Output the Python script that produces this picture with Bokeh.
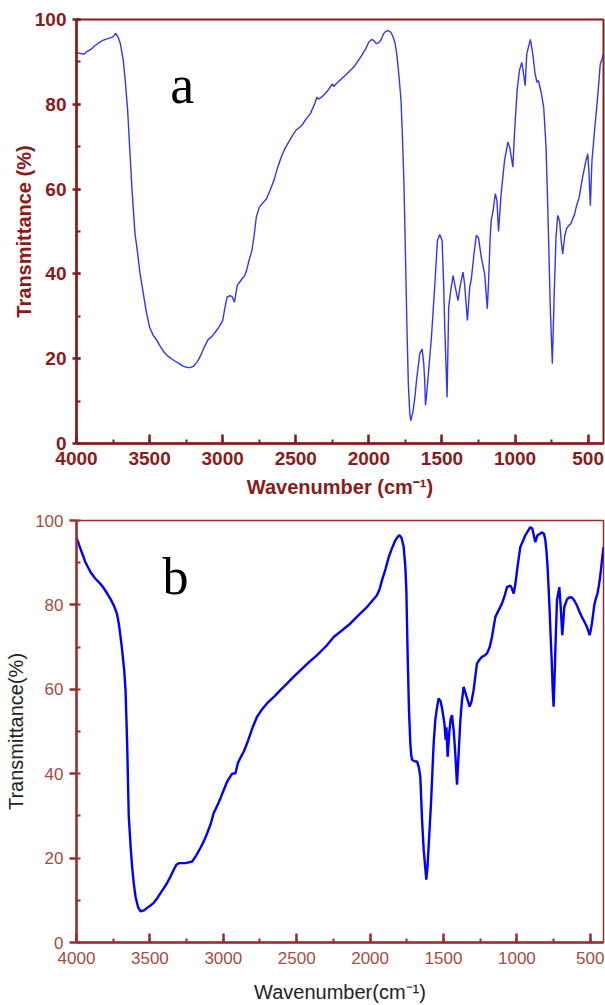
from bokeh.plotting import figure
from bokeh.models import Range1d, SingleIntervalTicker, Label
from bokeh.layouts import column
from bokeh.embed import file_html
from bokeh.resources import INLINE

# ---- spectrum a (wavenumber cm-1, transmittance %) ----
wn_a = [4000, 3975, 3950, 3925, 3900, 3875, 3850, 3825, 3800, 3775, 3750, 3732, 3715, 3700, 3680,
        3665, 3650, 3635, 3620, 3600, 3584, 3565, 3550, 3525, 3500, 3475, 3450, 3425, 3400, 3375,
        3350, 3325, 3300, 3275, 3250, 3225, 3200, 3175, 3150, 3125, 3100, 3075, 3050, 3025, 3000,
        2985, 2970, 2950, 2935, 2920, 2900, 2875, 2850, 2835, 2820, 2800, 2785, 2770, 2750, 2725,
        2700, 2675, 2650, 2625, 2600, 2575, 2550, 2525, 2500, 2459, 2430, 2400, 2370, 2356, 2345,
        2320, 2300, 2275, 2250, 2240, 2225, 2200, 2150, 2100, 2050, 2020, 2000, 1980, 1965, 1950,
        1935, 1920, 1900, 1885, 1870, 1850, 1835, 1820, 1810, 1800, 1790, 1780, 1770, 1760, 1750,
        1740, 1730, 1720, 1713, 1697, 1685, 1674, 1652, 1636, 1625, 1618, 1613, 1605, 1595, 1572,
        1550, 1531, 1515, 1499, 1488, 1481, 1465, 1454, 1440, 1424, 1409, 1390, 1375, 1356, 1345,
        1326, 1310, 1299, 1281, 1265, 1250, 1231, 1208, 1190, 1181, 1170, 1163, 1150, 1135, 1124,
        1113, 1095, 1072, 1049, 1035, 1015, 1004, 986, 970, 954, 943, 931, 920, 895, 879,
        863, 850, 840, 822, 804, 788, 777, 768, 760, 745, 732, 720, 708, 695, 685,
        674, 660, 647, 630, 617, 606, 595, 580, 561, 538, 515, 503, 495, 485, 474,
        458, 435, 417, 401, 395]
t_a = [92.2, 92.0, 91.8, 92.5, 93.0, 93.8, 94.4, 95.0, 95.3, 95.6, 95.9, 96.7, 95.8, 94.3, 90.3,
       85.0, 78.5, 69.0, 59.7, 49.5, 45.5, 40.0, 36.9, 31.5, 27.4, 25.5, 24.3, 22.8, 21.5, 20.6,
       20.0, 19.4, 18.9, 18.3, 18.0, 17.9, 18.2, 19.2, 20.8, 22.8, 24.5, 25.2, 26.3, 27.5, 29.0,
       32.0, 34.5, 34.9, 34.6, 33.3, 37.3, 38.5, 39.6, 41.0, 43.2, 45.5, 49.0, 53.4, 55.7, 56.8,
       57.7, 59.8, 62.0, 65.0, 67.5, 69.5, 71.0, 72.5, 73.8, 75.0, 76.5, 77.8, 80.2, 81.7, 81.2,
       81.8, 82.5, 83.5, 84.8, 84.2, 84.8, 85.6, 87.2, 88.9, 91.5, 93.2, 94.7, 95.3, 95.0, 94.3,
       94.5, 95.0, 96.6, 97.2, 97.4, 97.0, 96.0, 94.3, 92.0, 88.8, 85.0, 80.9, 72.0, 61.3, 45.0,
       28.0, 14.0, 7.0, 5.4, 7.8, 11.0, 14.9, 21.2, 22.3, 19.0, 14.9, 9.0, 11.5, 15.6, 25.0,
       36.9, 47.9, 49.3, 47.9, 36.9, 27.4, 10.9, 32.1, 36.1, 39.6, 36.9, 33.7, 37.3, 40.4, 37.5,
       29.0, 36.9, 38.8, 44.7, 49.1, 48.5, 43.9, 40.0, 31.8, 38.4, 48.7, 52.6, 55.0, 58.9, 57.3,
       50.0, 59.0, 66.7, 71.1, 69.6, 65.2, 73.0, 83.3, 88.0, 89.9, 87.5, 84.4, 91.9, 95.3, 91.9,
       87.2, 85.2, 85.6, 82.9, 79.3, 69.9, 56.6, 44.7, 33.0, 18.8, 35.4, 48.7, 53.8, 52.5, 48.0,
       44.7, 49.0, 50.7, 51.5, 51.9, 53.0, 53.8, 56.0, 58.1, 62.8, 66.7, 68.3, 64.4, 56.1, 66.7,
       73.1, 81.7, 89.5, 91.1, 92.0]

# ---- spectrum b ----
wn_b = [4000, 3973, 3939, 3905, 3871, 3837, 3815, 3791, 3770, 3746, 3725, 3712, 3700, 3689, 3675,
        3666, 3655, 3644, 3630, 3621, 3610, 3598, 3580, 3564, 3540, 3519, 3495, 3474, 3450, 3428,
        3405, 3383, 3360, 3337, 3320, 3303, 3280, 3258, 3235, 3212, 3185, 3156, 3130, 3110, 3085,
        3065, 3040, 3019, 2995, 2974, 2955, 2940, 2917, 2901, 2880, 2861, 2838, 2800, 2770, 2735,
        2701, 2650, 2611, 2565, 2520, 2475, 2420, 2361, 2300, 2248, 2190, 2134, 2080, 2021, 1985,
        1953, 1935, 1919, 1895, 1873, 1850, 1828, 1810, 1799, 1785, 1771, 1760, 1753, 1744, 1735,
        1726, 1720, 1714, 1700, 1690, 1680, 1668, 1658, 1646, 1635, 1625, 1617, 1609, 1601, 1585,
        1567, 1556, 1545, 1533, 1520, 1510, 1494, 1485, 1480, 1472, 1460, 1451, 1442, 1430, 1420,
        1408, 1398, 1385, 1375, 1363, 1345, 1322, 1310, 1295, 1272, 1255, 1238, 1220, 1204, 1185,
        1170, 1147, 1125, 1102, 1085, 1067, 1045, 1035, 1022, 1010, 999, 977, 960, 943, 925,
        909, 895, 885, 875, 860, 845, 829, 815, 806, 798, 791, 784, 777, 770, 763,
        756, 750, 744, 738, 727, 711, 700, 691, 684, 677, 660, 648, 630, 618, 605,
        591, 575, 557, 540, 523, 510, 505, 497, 489, 480, 473, 462, 451, 442, 433,
        422, 410]
t_b = [96.0, 93.3, 90.1, 87.8, 86.2, 85.0, 84.0, 82.7, 81.5, 79.9, 78.0, 75.6, 72.5, 69.3, 64.5,
       59.8, 47.2, 29.9, 22.0, 18.0, 14.0, 10.9, 8.3, 7.4, 7.6, 8.2, 8.8, 9.4, 10.5, 11.7,
       12.9, 14.1, 15.6, 17.3, 18.4, 18.8, 18.8, 18.8, 19.0, 19.2, 20.6, 22.4, 24.2, 25.9, 28.2,
       30.7, 32.5, 34.2, 36.3, 38.1, 39.2, 40.0, 40.1, 42.5, 44.0, 45.2, 47.2, 51.0, 53.5, 55.3,
       56.7, 58.4, 59.8, 61.4, 63.0, 64.5, 66.3, 68.1, 70.2, 72.4, 74.0, 75.6, 77.5, 79.5, 81.0,
       82.3, 83.8, 85.8, 88.5, 91.3, 93.5, 95.3, 96.2, 96.5, 95.8, 93.7, 89.0, 83.5, 67.7, 55.0,
       47.2, 44.5, 43.3, 43.0, 42.9, 42.9, 41.5, 39.3, 29.1, 22.0, 18.0, 14.9, 18.0, 22.8, 33.0,
       47.2, 52.7, 55.5, 57.8, 57.2, 55.5, 52.0, 48.0, 51.0, 44.0, 50.0, 53.0, 53.9, 50.0, 45.0,
       37.4, 44.0, 52.7, 57.0, 60.6, 58.5, 55.9, 57.0, 59.8, 66.1, 67.0, 67.7, 68.0, 68.5, 70.0,
       72.4, 77.1, 78.7, 80.3, 82.0, 84.2, 84.6, 84.0, 82.7, 85.0, 88.2, 93.7, 95.0, 96.5, 97.5,
       98.4, 98.1, 96.5, 94.9, 96.5, 96.8, 97.2, 96.8, 95.3, 92.5, 89.0, 84.0, 78.7, 72.5, 66.9,
       60.0, 55.9, 62.0, 69.3, 81.1, 84.2, 78.7, 72.8, 76.0, 79.5, 81.2, 81.7, 81.8, 81.5, 80.8,
       79.9, 78.5, 77.1, 76.0, 74.8, 73.5, 72.8, 74.0, 75.6, 78.0, 79.9, 81.5, 82.7, 84.5, 86.6,
       90.0, 93.7]

x_ticks_step = 500
y_ticks_step = 20


def style(p, axis_col, label_col, bold, tick_size, title_size, title_col):
    p.xgrid.visible = False
    p.ygrid.visible = False
    p.background_fill_color = "white"
    p.border_fill_color = "white"
    p.outline_line_color = axis_col
    p.outline_line_width = 2
    p.outline_line_alpha = 1
    p.xaxis.ticker = SingleIntervalTicker(interval=x_ticks_step, num_minor_ticks=2)
    p.yaxis.ticker = SingleIntervalTicker(interval=y_ticks_step, num_minor_ticks=2)
    for ax in (p.xaxis[0], p.yaxis[0]):
        ax.axis_line_color = axis_col
        ax.axis_line_width = 2.5
        ax.major_tick_line_color = axis_col
        ax.minor_tick_line_color = axis_col
        ax.major_tick_line_width = 2.5
        ax.minor_tick_line_width = 2
        ax.major_label_text_color = label_col
        ax.major_label_text_font = "Liberation Sans"
        ax.major_label_text_font_style = "bold" if bold else "normal"
        ax.major_label_text_font_size = tick_size
        ax.axis_label_text_font = "Liberation Sans"
        ax.axis_label_text_font_style = "bold" if bold else "normal"
        ax.axis_label_text_font_size = title_size
        ax.axis_label_text_color = title_col
    p.xaxis.major_tick_in = 9
    p.xaxis.major_tick_out = 0
    p.xaxis.minor_tick_in = 4
    p.xaxis.minor_tick_out = 0
    p.yaxis.minor_tick_in = 4
    p.yaxis.minor_tick_out = 0


# ---- panel a ----
p1 = figure(width=605, height=502, x_range=Range1d(4000, 395), y_range=Range1d(0, 100),
            output_backend="svg", toolbar_location=None,
            min_border_left=74, min_border_right=2, min_border_top=19, min_border_bottom=59)
style(p1, "#8B1A1A", "#8B1A1A", True, "19px", "20px", "#8B1A1A")
p1.yaxis.major_tick_in = 4
p1.yaxis.major_tick_out = 4
p1.xaxis.axis_label = "Wavenumber (cm\u207b\u00b9)"
p1.yaxis.axis_label = "Transmittance (%)"
p1.xaxis.major_label_standoff = 8
p1.xaxis.axis_label_standoff = 8
p1.yaxis.major_label_standoff = 6
p1.yaxis.axis_label_standoff = -3
p1.line(wn_a, t_a, line_color="#3333ff", line_width=1.4)
p1.add_layout(Label(x=3277, y=84.5, text="a", text_font="Liberation Serif", text_font_size="54px",
                    text_align="center", text_baseline="alphabetic", text_color="black"))

# ---- panel b ----
p2 = figure(width=605, height=503, x_range=Range1d(4000, 410), y_range=Range1d(0, 100),
            output_backend="svg", toolbar_location=None,
            min_border_left=76, min_border_right=2, min_border_top=18, min_border_bottom=62)
style(p2, "#9B2C2C", "#A54B45", False, "17px", "20px", "#222222")
p2.outline_line_width = 1.5
p2.yaxis.major_tick_in = 0
p2.yaxis.major_tick_out = 7
p2.xaxis.axis_label = "Wavenumber(cm\u207b\u00b9)"
p2.yaxis.axis_label = "Transmittance(%)"
p2.xaxis.major_label_standoff = 9
p2.xaxis.axis_label_standoff = 14
p2.yaxis.major_label_standoff = 6
p2.yaxis.axis_label_standoff = 5
p2.line(wn_b, t_b, line_color="#0000ff", line_width=2.4)
p2.add_layout(Label(x=3326, y=86.8, text="b", text_font="Liberation Serif", text_font_size="52px",
                    text_align="center", text_baseline="alphabetic", text_color="black"))

layout = column(p1, p2, spacing=0)
open("out.html", "w").write(file_html(layout, INLINE))
